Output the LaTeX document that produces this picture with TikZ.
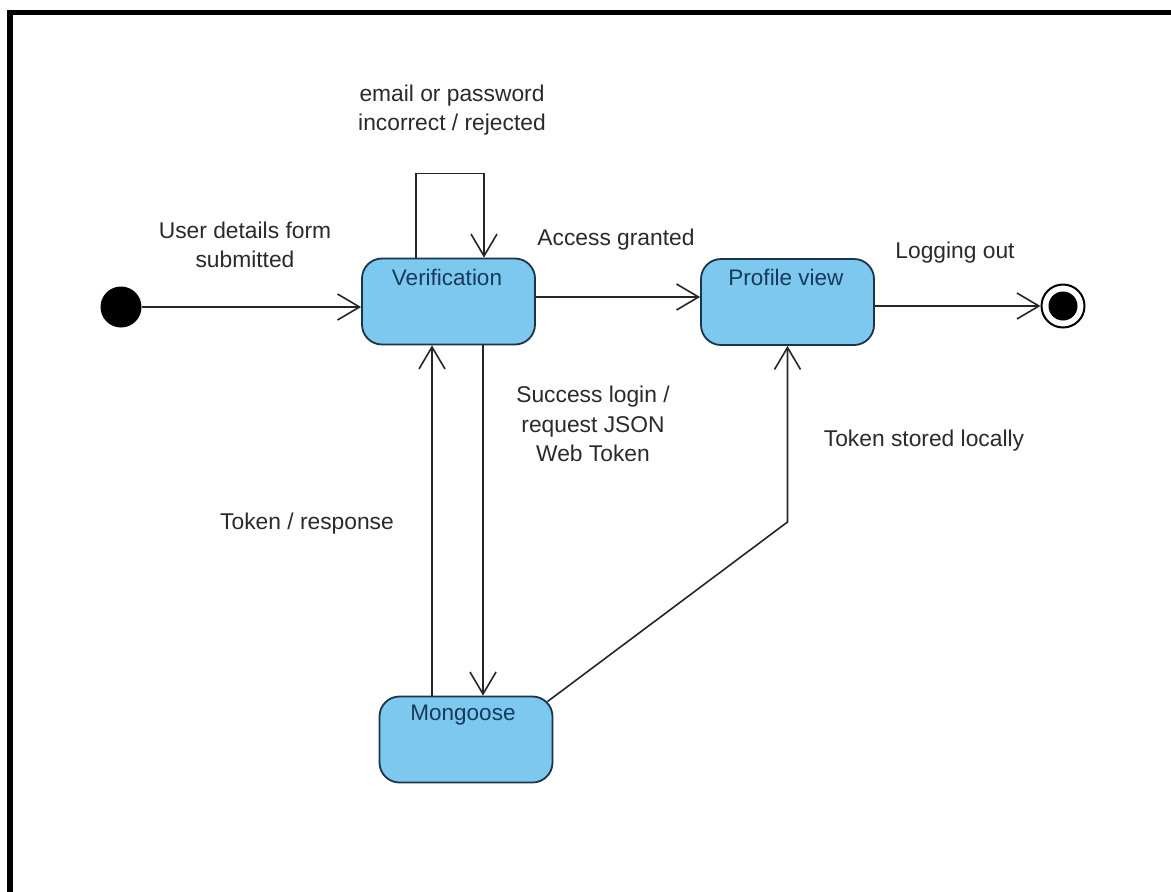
\documentclass[tikz,border=0pt]{standalone}
\usepackage{fontspec}
\setmainfont{Liberation Sans}
\usetikzlibrary{arrows.meta}
\definecolor{statefill}{HTML}{7CC8EE}
\definecolor{stateline}{HTML}{1C3448}
\definecolor{statetxt}{HTML}{173A5C}
\definecolor{labeltxt}{HTML}{2A2A2A}
\begin{document}
\begin{tikzpicture}[x=1pt,y=-1pt,
  state/.style={draw=stateline, fill=statefill, line width=1.8pt, rounded corners=20pt,
    minimum width=173pt, minimum height=86pt, inner sep=0pt},
  statename/.style={text=statetxt, font=\fontsize{22.5}{26}\selectfont, anchor=base, inner sep=0pt},
  lbl/.style={text=labeltxt, font=\fontsize{22.8}{29.5}\selectfont, align=center, inner sep=0pt},
  conn/.style={draw=black!85, line width=1.6pt},
  arr/.style={conn, -{Straight Barb[length=22pt,width=26pt]}},
]
\useasboundingbox (0,0) rectangle (1171,892);
\fill[white] (0,0) rectangle (1171,892);
% frame along the top and left edges
\fill[black] (7,10) rectangle (1171,15);
\fill[black] (7,10) rectangle (13,892);

% states
\node[state] (v) at (448.5,301.5) {};
\node[state] (p) at (787.5,302) {};
\node[state] (m) at (466,739.5) {};
\node[statename] (vt) at (447,285) {Verification};
\node[statename] (pt) at (786,285) {Profile view};
\node[statename] (mt) at (463,720) {Mongoose};

% initial and final pseudo-states
\node[circle, fill=black, minimum size=41pt, inner sep=0pt] (init) at (121,307) {};
\node[circle, draw=black, line width=2pt, minimum size=43pt, inner sep=0pt] (fin) at (1063,306) {};
\node[circle, fill=black, minimum size=29pt, inner sep=0pt] (finc) at (fin) {};

% transitions
\draw[arr] (init.east) -- (init.east -| v.west);
\draw[arr] ([yshift=4.5pt]v.east) -- ([yshift=4.5pt]v.east -| p.west);
\draw[arr] (p.east |- fin.west) -- (fin.west);
\draw[arr] ([xshift=-32.5pt]v.north) -- ++(0,-84) -| ([xshift=35.5pt]v.north);
\draw[arr] ([xshift=34.5pt]v.south) -- ([xshift=34.5pt]v.south |- m.north);
\draw[arr] ([xshift=-16.5pt]v.south |- m.north) -- ([xshift=-16.5pt]v.south);
\coordinate (bend) at (787.5,522);
\draw[arr] ([xshift=-6pt,yshift=-6pt]m.north east) -- (bend) -- (p.south);

% transition labels
\node[lbl] (l1) at (452,110) {email or password\\incorrect / rejected};
\node[lbl] (l2) at (245,245) {User details form\\submitted};
\node[lbl] (l3) at (616,240) {Access granted};
\node[lbl] (l4) at (955,253) {Logging out};
\node[lbl] (l5) at (593,424) {Success login /\\request JSON\\Web Token};
\node[lbl] (l6) at (924,441) {Token stored locally};
\node[lbl] (l7) at (307,524) {Token / response};
\end{tikzpicture}
\end{document}
